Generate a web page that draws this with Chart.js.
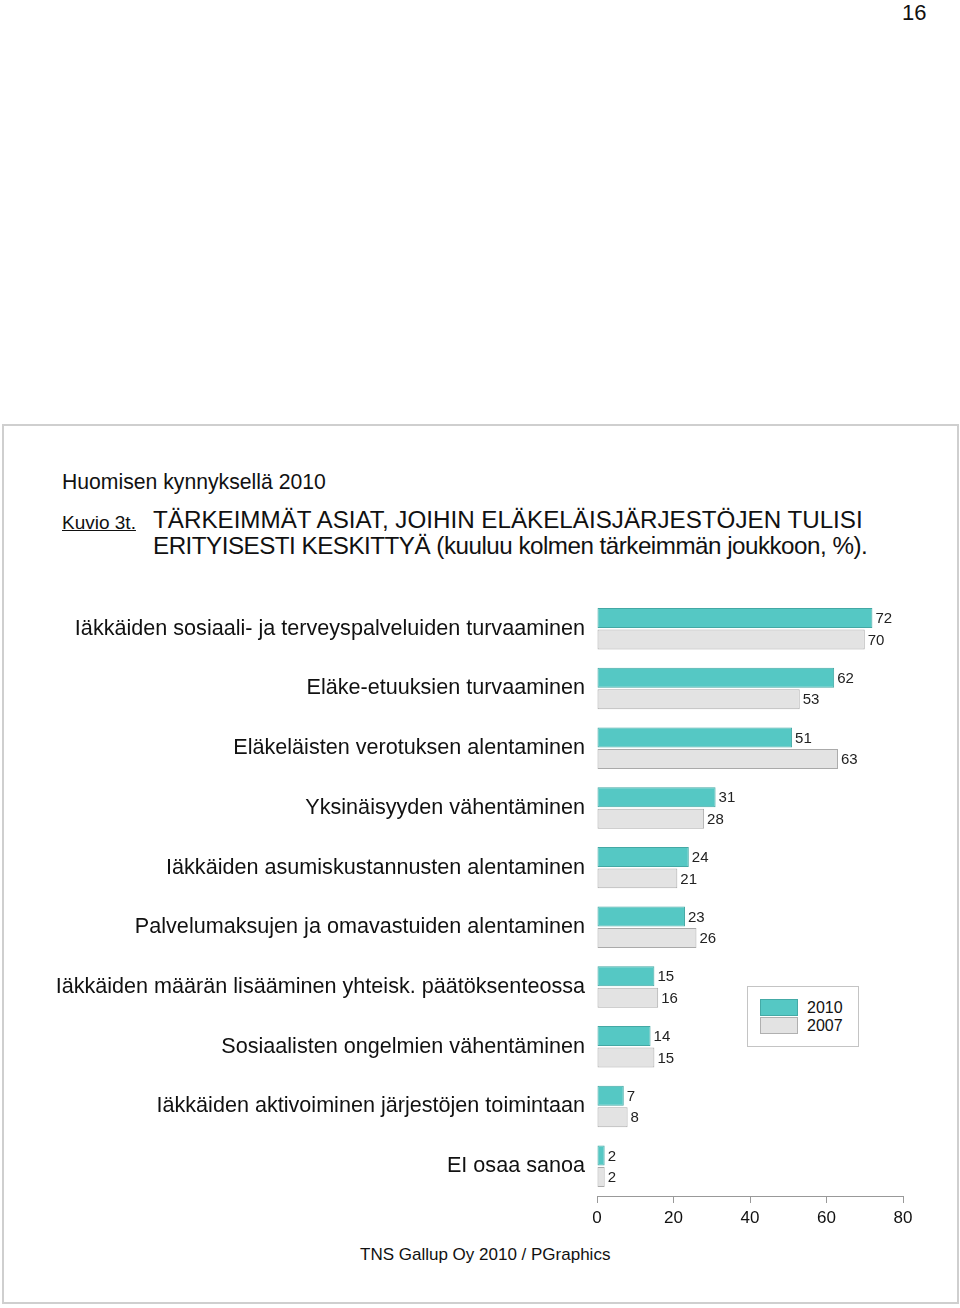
<!DOCTYPE html>
<html>
<head>
<meta charset="utf-8">
<script src="https://cdn.jsdelivr.net/npm/chart.js@4/dist/chart.umd.min.js"></script>
<style>
  body { margin: 0; width: 960px; height: 1308px; position: relative; background: #fff;
         font-family: "Liberation Sans", Arial, sans-serif; color: #111; overflow: hidden; }
  .abs { position: absolute; white-space: nowrap; }
  #frame { position: absolute; left: 2px; top: 424px; width: 953px; height: 876px; border: 2px solid #cfcfcf; }
  #chartWrap { position: absolute; left: 0; top: 582px; width: 960px; height: 658px; }
  #legend { position: absolute; left: 747px; top: 986px; width: 110px; height: 59px; border: 1px solid #c4c4c4; background: #fff; }
  .sw { position: absolute; left: 12px; width: 36px; height: 15px; }
  .lt { position: absolute; left: 59px; font-size: 16px; line-height: 16px; }
</style>
</head>
<body>
<div class="abs" style="left:902px; top:0px; font-size:22px;">16</div>
<div id="frame"></div>
<div class="abs" style="left:62px; top:470px; font-size:21.2px;">Huomisen kynnyksellä 2010</div>
<div class="abs" style="left:62px; top:512px; font-size:19px; text-decoration:underline;">Kuvio 3t.</div>
<div class="abs" style="left:153px; top:507px; font-size:24.2px; line-height:26px;">TÄRKEIMMÄT ASIAT, JOIHIN ELÄKELÄISJÄRJESTÖJEN TULISI</div>
<div class="abs" style="left:153px; top:533px; font-size:24.2px; line-height:26px; letter-spacing:-0.5px;">ERITYISESTI KESKITTYÄ (kuuluu kolmen tärkeimmän joukkoon, %).</div>

<div id="chartWrap"><canvas id="chart" width="960" height="658"></canvas></div>

<div id="legend">
  <div class="sw" style="top:12px; background:#55c8c4; border:1px solid #44aaa6;"></div>
  <div class="sw" style="top:30px; background:#e3e3e3; border:1px solid #b0b0b0;"></div>
  <div class="lt" style="top:13px;">2010</div>
  <div class="lt" style="top:31px;">2007</div>
</div>

<div class="abs" style="left:360px; top:1245px; font-size:17px;">TNS Gallup Oy 2010 / PGraphics</div>

<script>
// categories and values
const categories = [
  'Iäkkäiden sosiaali- ja terveyspalveluiden turvaaminen',
  'Eläke-etuuksien turvaaminen',
  'Eläkeläisten verotuksen alentaminen',
  'Yksinäisyyden vähentäminen',
  'Iäkkäiden asumiskustannusten alentaminen',
  'Palvelumaksujen ja omavastuiden alentaminen',
  'Iäkkäiden määrän lisääminen yhteisk. päätöksenteossa',
  'Sosiaalisten ongelmien vähentäminen',
  'Iäkkäiden aktivoiminen järjestöjen toimintaan',
  'EI osaa sanoa'
];
const values2010 = [72, 62, 51, 31, 24, 23, 15, 14, 7, 2];
const values2007 = [70, 53, 63, 28, 21, 26, 16, 15, 8, 2];
const xTicks = [0, 20, 40, 60, 80];

// numbers next to bar ends
const valueLabels = {
  id: 'valueLabels',
  afterDatasetsDraw(chart) {
    const ctx = chart.ctx;
    ctx.save();
    ctx.font = '15px "Liberation Sans", Arial, sans-serif';
    ctx.fillStyle = '#222';
    ctx.textBaseline = 'middle';
    chart.data.datasets.forEach((ds, i) => {
      chart.getDatasetMeta(i).data.forEach((bar, j) => {
        ctx.fillText(ds.data[j], bar.x + 3, bar.y + 1);
      });
    });
    ctx.restore();
  }
};

new Chart(document.getElementById('chart'), {
  type: 'bar',
  data: {
    labels: categories,
    datasets: [
      { label: '2010', data: values2010, backgroundColor: '#55c8c4', borderColor: '#44a8a4', borderWidth: 1, borderSkipped: false },
      { label: '2007', data: values2007, backgroundColor: '#e3e3e3', borderColor: '#aaaaaa', borderWidth: 1, borderSkipped: false }
    ]
  },
  options: {
    indexAxis: 'y',
    responsive: false,
    animation: false,
    layout: { padding: { left: 0, right: 57, top: 8, bottom: 0 } },
    datasets: { bar: { categoryPercentage: 0.72, barPercentage: 0.93 } },
    scales: {
      y: {
        grid: { display: false },
        border: { display: false },
        ticks: { padding: 4, color: '#111', font: { size: 21.6, family: '"Liberation Sans", Arial, sans-serif' } },
        afterFit(s) { s.width = 597; }
      },
      x: {
        min: 0, max: 80,
        afterBuildTicks(s) { s.ticks = xTicks.map(v => ({ value: v })); },
        grid: { drawOnChartArea: false, drawTicks: true, tickLength: 7, color: '#999' },
        border: { display: true, color: '#999' },
        ticks: { padding: 5, color: '#111', font: { size: 17, family: '"Liberation Sans", Arial, sans-serif' } },
        afterFit(s) { s.height = 44; }
      }
    },
    plugins: { legend: { display: false }, tooltip: { enabled: false } }
  },
  plugins: [valueLabels]
});
</script>
</body>
</html>
